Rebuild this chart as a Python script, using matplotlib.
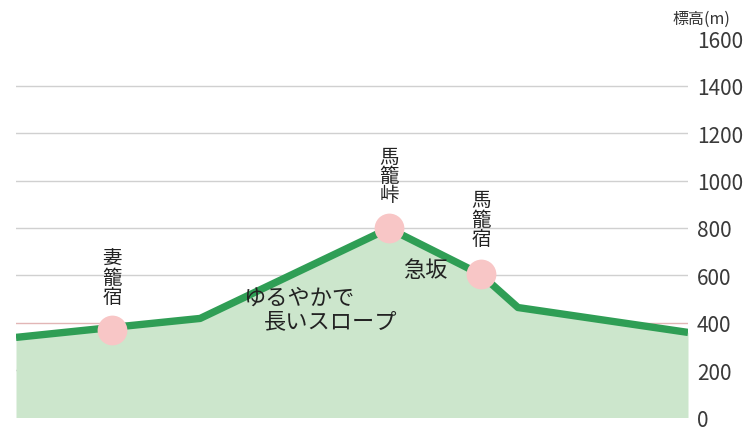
#!/usr/bin/env python

""" elevation profile: Tsumago - Magome pass - Magome """

import matplotlib
matplotlib.use("Agg")
import matplotlib.pyplot as plt

# route profile (relative distance, elevation m)
dist = [0, 14.3, 27.4, 55.5, 69.2, 74.7, 100]
elev = [338, 380, 418, 798, 603, 464, 359]

# stops marked on the route
stop_dist = [14.3, 55.5, 69.2]
stop_elev = [368, 798, 606]
stop_names = ["妻籠宿", "馬籠峠", "馬籠宿"]
label_base = [465, 895, 710]   # elevation at the bottom of each name

yticks = [0, 200, 400, 600, 800, 1000, 1200, 1400, 1600]
grid_levels = [200, 400, 600, 800, 1000, 1200, 1400]


def main():
    plt.rcParams["font.family"] = ["Noto Sans CJK JP", "DejaVu Sans"]

    fig = plt.figure(figsize=(7.54, 4.31), dpi=100)
    ax = fig.add_axes([16 / 754, 12.5 / 431, 672 / 754, 379.2 / 431])

    for g in grid_levels:
        c = "#e2b6b6" if g == 400 else "#d0d0d0"
        ax.axhline(g, color=c, lw=1.0, zorder=0)

    ax.fill_between(dist, elev, 0, color="#cce6cc", lw=0, zorder=1)
    ax.plot(dist, elev, color="#2f9e55", lw=5.3, solid_joinstyle="round",
            solid_capstyle="butt", zorder=2)
    ax.scatter(stop_dist, stop_elev, s=460, color="#f8c6c6", lw=0, zorder=3)

    # vertical station names above the markers
    for x, y, name in zip(stop_dist, label_base, stop_names):
        ax.text(x, y, "\n".join(name), ha="center", va="bottom",
                fontsize=14, linespacing=0.9, color="#222222", zorder=4)

    ax.text(33.8, 507, "ゆるやかで", ha="left", va="center",
            fontsize=16, color="#222222", zorder=4)
    ax.text(36.9, 407, "長いスロープ", ha="left", va="center",
            fontsize=16, color="#222222", zorder=4)
    ax.text(60.9, 625, "急坂", ha="center", va="center", fontsize=16,
            color="#222222", zorder=4)

    ax.set_xlim(0, 100)
    ax.set_ylim(0, 1600)
    ax.set_xticks([])
    ax.yaxis.tick_right()
    ax.set_yticks(yticks)
    ax.set_yticklabels([str(v) for v in yticks])
    ax.tick_params(axis="y", length=0, pad=6.5, labelsize=15,
                   labelcolor="#3a3a3a")
    for s in ax.spines.values():
        s.set_visible(False)

    fig.text(701 / 754, 1 - 19 / 431, "標高(m)", ha="center", va="center",
             fontsize=11.5, color="#333333")

    fig.savefig("out.png", dpi=100)


if __name__ == "__main__":
    main()
